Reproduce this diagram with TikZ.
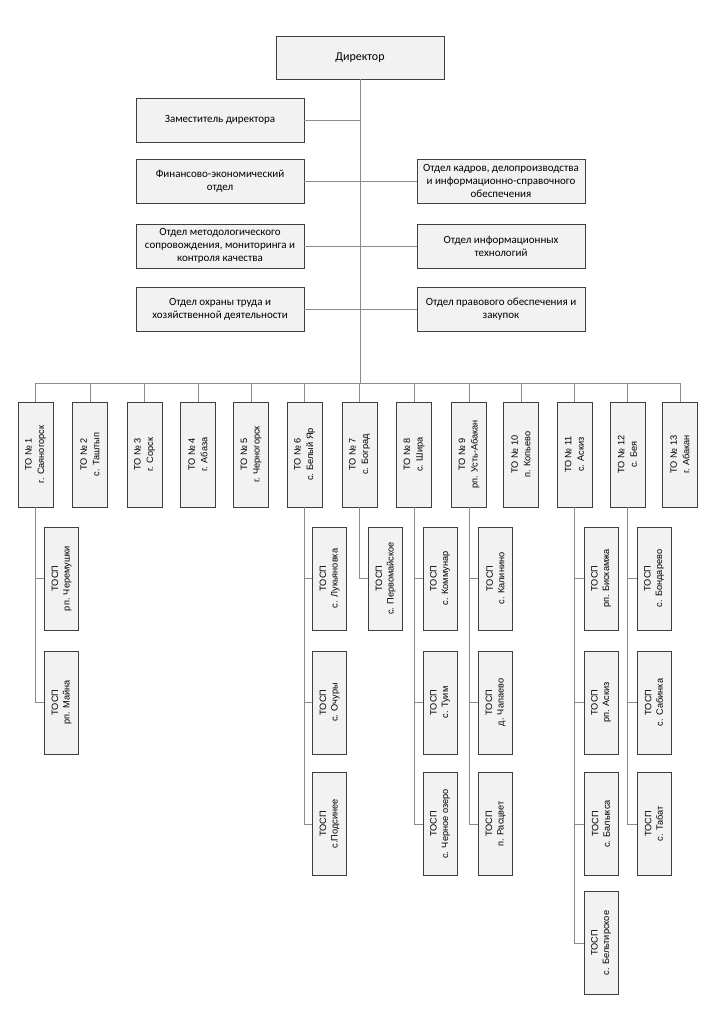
\documentclass[tikz,border=0pt]{standalone}
\usepackage{fontspec}
\setmainfont{Carlito}
\newfontfamily\arialf{Liberation Sans}
\definecolor{boxfill}{HTML}{F2F2F2}
\definecolor{boxdraw}{HTML}{3F3F3F}
\definecolor{linegray}{HTML}{8C8C8C}
\tikzset{
  topbox/.style={draw=boxdraw, fill=boxfill, line width=0.9pt, align=center, inner sep=1pt,
    minimum width=168pt, minimum height=44pt, font=\fontsize{11}{13}\selectfont},
  tobox/.style={draw=boxdraw, fill=boxfill, line width=0.9pt, align=center, inner sep=1pt,
    rotate=90, minimum width=105pt, minimum height=35pt, font=\arialf\fontsize{9.2}{12.5}\selectfont},
  tospbox/.style={draw=boxdraw, fill=boxfill, line width=0.9pt, align=center, inner sep=1pt,
    rotate=90, minimum width=103pt, minimum height=34pt, font=\arialf\fontsize{9.2}{11.5}\selectfont},
  conn/.style={draw=linegray, line width=0.8pt}
}
\begin{document}
\begin{tikzpicture}[x=1pt,y=-1pt]
\path[use as bounding box, fill=white] (0,0) rectangle (724,1024);
% top section
\node[topbox, minimum height=43pt, font=\fontsize{12}{14}\selectfont] (dir) at (360,57.5) {Директор};
\node[topbox] (zam) at (220,120) {Заместитель директора};
\node[topbox] (fin) at (220,181) {Финансово-экономический\\отдел};
\node[topbox] (met) at (220,246) {Отдел методологического\\сопровождения, мониторинга и\\контроля качества};
\node[topbox] (ohr) at (220,309) {Отдел охраны труда и\\хозяйственной деятельности};
\node[topbox] (kad) at (501,181) {Отдел кадров, делопроизводства\\и информационно-справочного\\обеспечения};
\node[topbox] (it) at (501,246) {Отдел информационных\\технологий};
\node[topbox] (prav) at (501,309) {Отдел правового обеспечения и\\закупок};
\coordinate (bus) at (360,383);
\draw[conn] (dir.south) -- (bus);
\foreach \n in {zam,fin,met,ohr}{\draw[conn] (\n.east) -- (\n.east -| bus);}
\foreach \n in {kad,it,prav}{\draw[conn] (\n.west) -- (\n.west -| bus);}
% TO boxes
\node[tobox] (to1) at (35.5,454.5) {ТО № 1\\г. Саяногорск};
\node[tobox] (to2) at (90,454.5) {ТО № 2\\с. Таштып};
\node[tobox] (to3) at (144.5,454.5) {ТО № 3\\г. Сорск};
\node[tobox] (to4) at (198,454.5) {ТО № 4\\г. Абаза};
\node[tobox] (to5) at (251,454.5) {ТО № 5\\г. Черногорск};
\node[tobox] (to6) at (304.5,454.5) {ТО № 6\\с. Белый Яр};
\node[tobox] (to7) at (359.5,454.5) {ТО № 7\\с. Боград};
\node[tobox] (to8) at (414,454.5) {ТО № 8\\с. Шира};
\node[tobox] (to9) at (469,454.5) {ТО № 9\\рп. Усть-Абакан};
\node[tobox] (to10) at (521,454.5) {ТО № 10\\п. Копьево};
\node[tobox] (to11) at (574.5,454.5) {ТО № 11\\с. Аскиз};
\node[tobox] (to12) at (627.5,454.5) {ТО № 12\\с. Бея};
\node[tobox] (to13) at (680,454.5) {ТО № 13\\г. Абакан};
\draw[conn] (to1.east |- bus) -- (to13.east |- bus);
\foreach \i in {1,...,13}{\draw[conn] (to\i.east) -- (to\i.east |- bus);}
% TOSP boxes
\node[tospbox] (t1a) at (61.5,578.5) {ТОСП\\рп. Черемушки};
\node[tospbox] (t1b) at (61.5,702.5) {ТОСП\\рп. Майна};
\node[tospbox] (t6a) at (329.5,578.5) {ТОСП\\с. Лукьяновка};
\node[tospbox] (t6b) at (329.5,702.5) {ТОСП\\с. Очуры};
\node[tospbox] (t6c) at (329.5,824) {ТОСП\\с.Подсинее};
\node[tospbox] (t7a) at (385.5,578.5) {ТОСП\\с. Первомайское};
\node[tospbox] (t8a) at (440,578.5) {ТОСП\\с. Коммунар};
\node[tospbox] (t8b) at (440,702.5) {ТОСП\\с. Туим};
\node[tospbox] (t8c) at (440,824) {ТОСП\\с. Черное озеро};
\node[tospbox] (t9a) at (495.5,578.5) {ТОСП\\с. Калинино};
\node[tospbox] (t9b) at (495.5,702.5) {ТОСП\\д. Чапаево};
\node[tospbox] (t9c) at (495.5,824) {ТОСП\\п. Расцвет};
\node[tospbox] (t11a) at (601,578.5) {ТОСП\\рп. Бискамжа};
\node[tospbox] (t11b) at (601,702.5) {ТОСП\\рп. Аскиз};
\node[tospbox] (t11c) at (601,824) {ТОСП\\с. Балыкса};
\node[tospbox] (t11d) at (601,943) {ТОСП\\с. Бельтирское};
\node[tospbox] (t12a) at (654,578.5) {ТОСП\\с. Бондарево};
\node[tospbox] (t12b) at (654,702.5) {ТОСП\\с. Сабинка};
\node[tospbox] (t12c) at (654,824) {ТОСП\\с. Табат};
\foreach \p/\c in {1/t1a,1/t1b,6/t6a,6/t6b,6/t6c,7/t7a,8/t8a,8/t8b,8/t8c,9/t9a,9/t9b,9/t9c,11/t11a,11/t11b,11/t11c,11/t11d,12/t12a,12/t12b,12/t12c}{
  \draw[conn] (to\p.west) |- (\c.north);
}
\end{tikzpicture}
\end{document}
